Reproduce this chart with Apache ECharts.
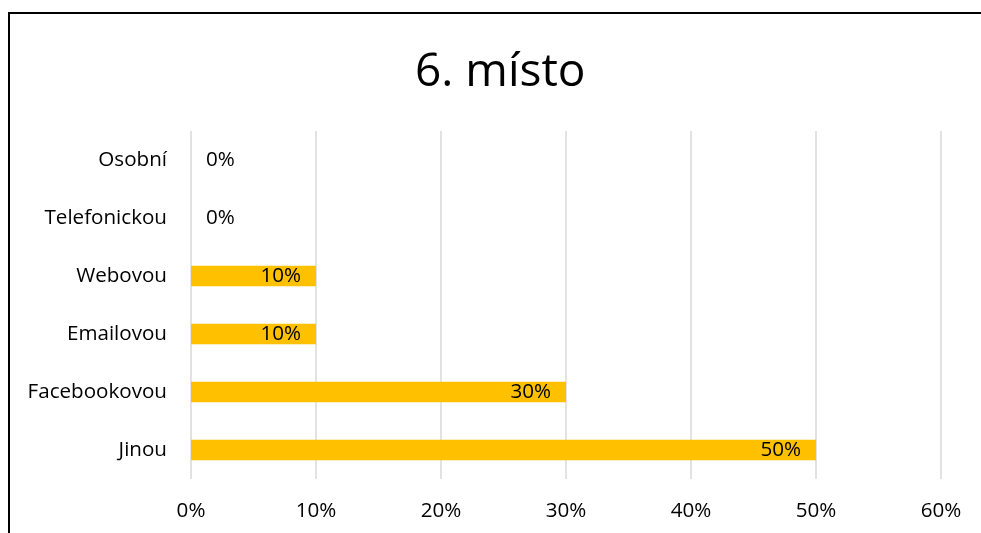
<!DOCTYPE html>
<html><head><meta charset="utf-8">
<script src="https://cdn.jsdelivr.net/npm/echarts@6/dist/echarts.min.js"></script>
<style>
html,body{margin:0;padding:0;background:#fff;}
#frame{position:absolute;left:8px;top:12px;width:990px;height:540px;border-left:2px solid #000;border-top:2px solid #000;}
#chart{position:absolute;left:0;top:0;width:981px;height:533px;}
</style></head>
<body>
<div id="frame"></div>
<div id="chart"></div>
<script>
var categories = ['Jinou','Facebookovou','Emailovou','Webovou','Telefonickou','Osobní'];
var values = [50,30,10,10,0,0];
var xTicks = [0,10,20,30,40,50,60];
var titleText = '6. místo';

var FONT = '"Open Sans", "Noto Sans", sans-serif';
var chart = echarts.init(document.getElementById('chart'));
chart.setOption({
  animation:false,
  title:{text:titleText,left:410,top:45,textStyle:{fontFamily:FONT,fontSize:46,fontWeight:'normal',color:'#000'}},
  grid:{left:191,right:40,top:131,bottom:54},
  xAxis:{type:'value',min:xTicks[0],max:xTicks[xTicks.length-1],interval:10,
    axisLine:{show:false},axisTick:{show:false},
    splitLine:{lineStyle:{color:'#d9d9d9',width:1.5}},
    axisLabel:{formatter:function(v){return v+'%';},fontFamily:FONT,fontSize:20.6,color:'#000',margin:22}},
  yAxis:{type:'category',data:categories,
    axisLine:{show:false},axisTick:{show:false},
    axisLabel:{fontFamily:FONT,fontSize:20.6,color:'#000',margin:24}},
  series:[{type:'bar',barWidth:'35%',itemStyle:{color:'#ffc000'},
    data:values.map(function(v){
      return {value:v,label:v===0?{position:'right',distance:15}:{position:'insideRight',distance:15}};
    }),
    label:{show:true,formatter:'{c}%',fontFamily:FONT,fontSize:20.6,color:'#000'}
  }]
});
</script>
</body></html>
